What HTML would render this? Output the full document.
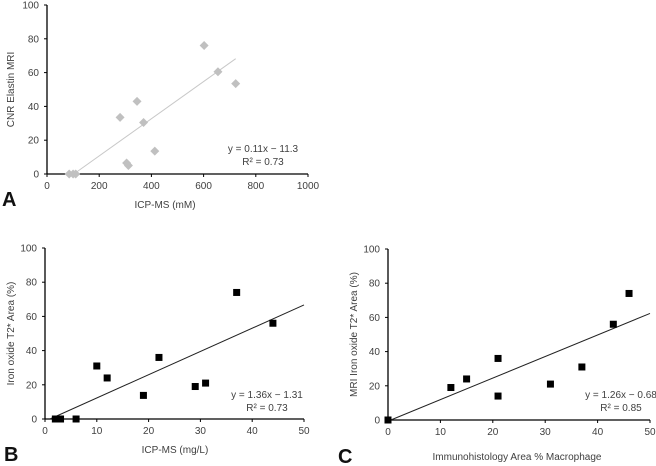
<!DOCTYPE html>
<html><head><meta charset="utf-8"><style>
body{margin:0;background:#fff;}
svg{display:block;font-family:"Liberation Sans",sans-serif;}
text{fill:#404040;font-size:10px;}
.lbl{font-size:20px;font-weight:bold;fill:#111;}
</style></head><body>
<svg id="s" width="656" height="466">
<text class="lbl" x="2" y="206">A</text>
<text class="lbl" x="4" y="461">B</text>
<text class="lbl" x="338" y="463">C</text>
</svg>
<script>
const aX=[85,100,110,280,305,312,345,370,413,602,655,723];
const aY=[0,0,0,33.5,6.5,5,43,30.5,13.5,76,60.5,53.5];
const bX=[2,2.5,3,6,10,12,19,22,29,31,37,44];
const bY=[0,0,0,0,31,24,13.8,36,19,21,74,56];
const cX=[0,12,15,21,21,31,37,43,46];
const cY=[0,19,24,36,14,21,31,56,74];
const aTicksX=[0,200,400,600,800,1000];
const bTicksX=[0,10,20,30,40,50];
const ticksY=[0,20,40,60,80,100];
const fits={a:[0.11,-11.3],b:[1.36,-1.31],c:[1.26,-0.68]};
const NS="http://www.w3.org/2000/svg";const svg=document.getElementById('s');
function mk(t,at,p){const e=document.createElementNS(NS,t);for(const k in at)e.setAttribute(k,at[k]);(p||svg).appendChild(e);return e;}
function panel(id,o){
 const g=mk('g',{});
 
 
 const sx=v=>o.x0+(v-o.xmin)/(o.xmax-o.xmin)*(o.x1-o.x0);
 const sy=v=>o.y0-(v/100)*(o.y0-o.y1);
 const ax=mk('line',{x1:o.x0,y1:o.y0,x2:o.x1,y2:o.y0,stroke:'#000','stroke-width':1.3},g);
 
 const ay=mk('line',{x1:o.x0,y1:o.y0,x2:o.x0,y2:o.y1,stroke:'#000','stroke-width':1.3},g);
 
 o.tx.forEach(v=>{mk('line',{x1:sx(v),y1:o.y0,x2:sx(v),y2:o.y0+3,stroke:'#000'},g);
  const t=mk('text',{x:sx(v),y:o.y0+15,'text-anchor':'middle'},g);t.textContent=v;
  });
 ticksY.forEach(v=>{mk('line',{x1:o.x0-3,y1:sy(v),x2:o.x0,y2:sy(v),stroke:'#000'},g);
  const t=mk('text',{x:o.x0-8,y:sy(v)+3.5,'text-anchor':'end'},g);t.textContent=v;
  });
 const [m,b]=o.fit;const xs=Math.max(o.xmin,-b/m),xe=o.xe;
 const tl=mk('line',{x1:sx(xs),y1:sy(m*xs+b),x2:sx(xe),y2:sy(m*xe+b),stroke:o.lc,'stroke-width':1},g);
 
 o.X.forEach((x,i)=>{const px=sx(x),py=sy(o.Y[i]);let e;
  if(o.diamond)e=mk('polygon',{points:`${px},${py-4.5} ${px+4.5},${py} ${px},${py+4.5} ${px-4.5},${py}`,fill:'#c0c0c0'},g);
  else e=mk('rect',{x:px-3.5,y:py-3.5,width:7,height:7,fill:'#000'},g);
  });
 const xt=mk('text',{x:o.xtx,y:o.xty,'text-anchor':'middle'},g);xt.textContent=o.xtitle;
 
 const yt=mk('text',{transform:`translate(${o.ytx},${(o.y0+o.y1)/2}) rotate(-90)`,'text-anchor':'middle'},g);yt.textContent=o.ytitle;
 
 const e1=mk('text',{x:o.ex,y:o.ey,'text-anchor':'middle'},g);e1.textContent=o.eq;
 
 const e2=mk('text',{x:o.ex,y:o.ey+13,'text-anchor':'middle'},g);e2.textContent=o.r2;
 
}
panel('a',{x0:47,x1:308,y0:174,y1:5,xmin:0,xmax:1000,tx:aTicksX,X:aX,Y:aY,fit:fits.a,xe:723,lc:'#c8c8c8',diamond:true,
 xtitle:'ICP-MS (mM)',xtx:165,xty:208,ytitle:'CNR Elastin MRI',ytx:14,eq:'y = 0.11x − 11.3',r2:'R² = 0.73',ex:263,ey:152});
panel('b',{x0:45,x1:304,y0:419,y1:248,xmin:0,xmax:50,tx:bTicksX,X:bX,Y:bY,fit:fits.b,xe:50,lc:'#222',
 xtitle:'ICP-MS (mg/L)',xtx:175,xty:453,ytitle:'Iron oxide T2* Area (%)',ytx:14,eq:'y = 1.36x − 1.31',r2:'R² = 0.73',ex:267,ey:398});
panel('c',{x0:388,x1:650,y0:420,y1:249,xmin:0,xmax:50,tx:bTicksX,X:cX,Y:cY,fit:fits.c,xe:50,lc:'#222',
 xtitle:'Immunohistology Area % Macrophage',xtx:517,xty:460,ytitle:'MRI Iron oxide T2* Area (%)',ytx:357,eq:'y = 1.26x − 0.68',r2:'R² = 0.85',ex:621,ey:398});
</script>
</body></html>
